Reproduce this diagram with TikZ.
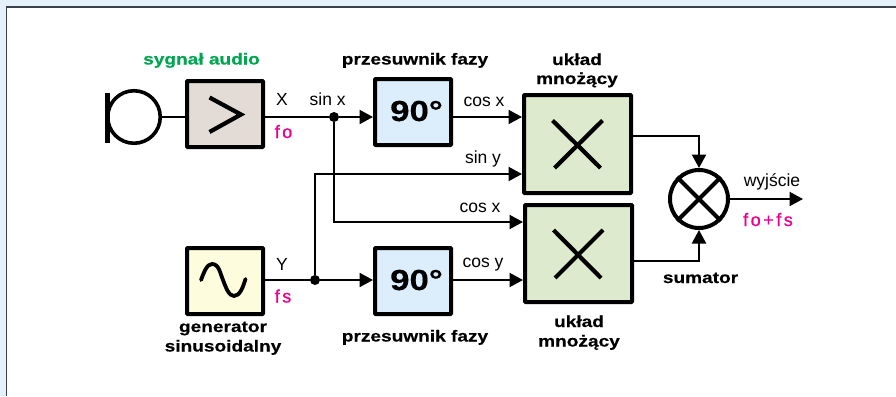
\documentclass[tikz,border=0pt]{standalone}
\usepackage{fontspec}
\setmainfont{Liberation Sans}
\newfontfamily\widebold[FakeStretch=1.2,FakeBold=0.4]{Liberation Sans Bold}
\newfontfamily\bignum[FakeStretch=1.2,FakeBold=0.4]{Liberation Sans Bold}
\newfontfamily\pinkfont[FakeBold=1,LetterSpace=14]{Liberation Sans}
\usetikzlibrary{arrows.meta}
\definecolor{bgblue}{HTML}{E4F1FB}
\definecolor{frameline}{HTML}{3A4148}
\definecolor{ampfill}{HTML}{E3DCD6}
\definecolor{phasefill}{HTML}{DCEDFB}
\definecolor{multfill}{HTML}{DDEACD}
\definecolor{genfill}{HTML}{FDFCDC}
\definecolor{pinktext}{HTML}{EC008C}
\definecolor{greentext}{HTML}{00A651}
\tikzset{
  x=1pt,y=-1pt,
  block/.style={draw=black,line width=4pt,rounded corners=0.8pt,inner sep=0pt,outer sep=2pt,anchor=center},
  wire/.style={draw=black,line width=2.2pt},
  arrowwire/.style={wire,-{Triangle[length=13.5pt,width=14pt]}},
  symb/.style={draw=black,line width=4.2pt},
  dotnode/.style={circle,fill=black,inner sep=0pt,minimum size=10pt},
  lab/.style={font=\fontsize{17.5}{17.5}\selectfont,inner sep=0pt,anchor=base},
  bold/.style={font=\fontsize{15.9}{15.9}\selectfont\widebold,inner sep=0pt,anchor=base},
  pink/.style={font=\fontsize{18}{18}\selectfont\pinkfont,text=pinktext,inner sep=0pt,anchor=base},
  numtext/.style={font=\fontsize{29}{29}\selectfont\bignum,inner sep=0pt,anchor=base},
}
\begin{document}
\begin{tikzpicture}
\useasboundingbox (0,0) rectangle (896,396);
\fill[bgblue] (0,0) rectangle (896,396);
\fill[white] (6.5,7.5) rectangle (896,396);
\draw[frameline,line width=1.2pt] (6.5,396) -- (6.5,7) -- (896,7);
% blocks
\node[block,fill=ampfill,minimum width=76pt,minimum height=66pt] (amp) at (225,114) {};
\node[block,fill=phasefill,minimum width=76pt,minimum height=66pt] (ph1) at (413,112) {};
\node[block,fill=genfill,minimum width=76pt,minimum height=66pt] (gen) at (225,281) {};
\node[block,fill=phasefill,minimum width=76pt,minimum height=66pt] (ph2) at (413,281) {};
\node[block,fill=multfill,minimum width=107pt,minimum height=98pt] (m1) at (577.5,144) {};
\node[block,fill=multfill,minimum width=107pt,minimum height=97pt] (m2) at (578.5,253.5) {};
\node[circle,draw=black,line width=4pt,fill=white,minimum size=58pt,inner sep=0pt,outer sep=2pt] (sum) at (699,199) {};
\node[circle,draw=black,line width=3.6pt,fill=white,minimum size=52.5pt,inner sep=0pt,outer sep=1.8pt] (mic) at (134,117) {};
% microphone bar
\draw[line width=4.5pt,draw=black] (107.5,93) -- (107.5,142.5);
% symbols
\draw[symb] (209.5,97.5) -- (241,114.5) -- (209.5,132);
\draw[symb] (552.5,120.5) -- (600.5,168); \draw[symb] (602.5,120.5) -- (554.5,168);
\draw[symb] (553.5,230) -- (601,278); \draw[symb] (603,230) -- (555,278);
\draw[symb,line width=3.8pt,line cap=round] (201,280) .. controls (204,272) and (207,264) .. (212,264) .. controls (219,264) and (220,273) .. (223,280) .. controls (226,288) and (229,296) .. (234,296) .. controls (240,296) and (243,287) .. (245.5,279);
\draw[symb] (sum.45) -- (sum.225); \draw[symb] (sum.135) -- (sum.315);
% junctions
\node[dotnode] (j1) at (334,117) {};
\node[dotnode] (j2) at (315,280) {};
\coordinate (out) at (803,199);
% connectors
\draw[wire] (mic.east) -- (amp.west |- mic.east);
\draw[arrowwire] (amp.east |- j1) -- (j1) -- (ph1.west |- j1);
\draw[wire] (gen.east |- j2) -- (j2);
\draw[arrowwire] (j2) -- (ph2.west |- j2);
\draw[arrowwire] (ph1.east |- 0,117) -- (m1.west |- 0,117);
\draw[arrowwire] (j2) -- (j2 |- 0,174) -- (m1.west |- 0,174);
\draw[arrowwire] (j1) -- (j1 |- 0,222) -- (m2.west |- 0,222);
\draw[arrowwire] (ph2.east |- j2) -- (m2.west |- j2);
\draw[arrowwire] (m1.east |- 0,136) -- (sum.north |- 0,136) -- (sum.north);
\draw[arrowwire] (m2.east |- 0,261) -- (sum.south |- 0,261) -- (sum.south);
\draw[arrowwire] (sum.east) -- (out);
% block text
\node[numtext] (t90a) at (416.5,121) {90°};
\node[numtext] (t90b) at (416.5,290) {90°};
% labels
\node[bold,text=greentext] (l1) at (201.5,64.5) {sygnał audio};
\node[bold] (l2) at (415,64.5) {przesuwnik fazy};
\node[bold] (l3) at (415,341.5) {przesuwnik fazy};
\node[bold] (l4) at (577,65) {układ};
\node[bold] (l5) at (577,84) {mnożący};
\node[bold] (l6) at (579,327) {układ};
\node[bold] (l7) at (579,346.5) {mnożący};
\node[bold] (l8) at (700.5,283) {sumator};
\node[bold] (l9) at (223,332) {generator};
\node[bold] (l10) at (223,351.5) {sinusoidalny};
\node[lab] (x1) at (282,105.5) {X};
\node[lab] (x2) at (327.7,105.5) {sin x};
\node[lab] (x3) at (484,106) {cos x};
\node[lab] (x4) at (483,163) {sin y};
\node[lab] (x5) at (480,212) {cos x};
\node[lab] (x6) at (483,267) {cos y};
\node[lab] (x7) at (282,270) {Y};
\node[lab] (x8) at (772,186) {wyjście};
\node[pink] (p1) at (283.5,138) {fo};
\node[pink] (p2) at (283,302.5) {fs};
\node[pink] (p3) at (768,226) {fo+fs};
\end{tikzpicture}
\end{document}
